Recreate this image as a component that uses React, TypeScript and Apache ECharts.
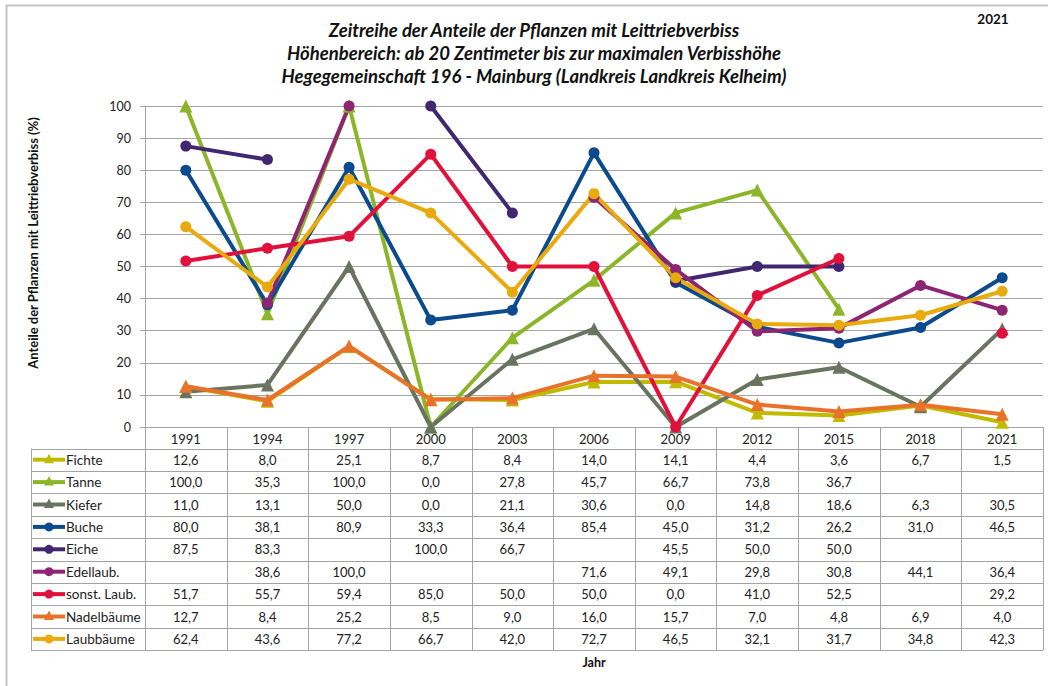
import React, { useEffect, useRef } from 'react';
import * as echarts from 'echarts';

const years = ['1991', '1994', '1997', '2000', '2003', '2006', '2009', '2012', '2015', '2018', '2021'];
const yTicks = [0, 10, 20, 30, 40, 50, 60, 70, 80, 90, 100];

const fichte = [12.6, 8.0, 25.1, 8.7, 8.4, 14.0, 14.1, 4.4, 3.6, 6.7, 1.5];
const tanne = [100.0, 35.3, 100.0, 0.0, 27.8, 45.7, 66.7, 73.8, 36.7, null, null];
const kiefer = [11.0, 13.1, 50.0, 0.0, 21.1, 30.6, 0.0, 14.8, 18.6, 6.3, 30.5];
const buche = [80.0, 38.1, 80.9, 33.3, 36.4, 85.4, 45.0, 31.2, 26.2, 31.0, 46.5];
const eiche = [87.5, 83.3, null, 100.0, 66.7, null, 45.5, 50.0, 50.0, null, null];
const edellaub = [null, 38.6, 100.0, null, null, 71.6, 49.1, 29.8, 30.8, 44.1, 36.4];
const sonstLaub = [51.7, 55.7, 59.4, 85.0, 50.0, 50.0, 0.0, 41.0, 52.5, null, 29.2];
const nadelbaeume = [12.7, 8.4, 25.2, 8.5, 9.0, 16.0, 15.7, 7.0, 4.8, 6.9, 4.0];
const laubbaeume = [62.4, 43.6, 77.2, 66.7, 42.0, 72.7, 46.5, 32.1, 31.7, 34.8, 42.3];

const seriesNames = ['Fichte', 'Tanne', 'Kiefer', 'Buche', 'Eiche', 'Edellaub.', 'sonst. Laub.', 'Nadelbäume', 'Laubbäume'];
const seriesData = [fichte, tanne, kiefer, buche, eiche, edellaub, sonstLaub, nadelbaeume, laubbaeume];
const seriesColors = ['#c2ba00', '#8cb62a', '#68745f', '#0b4a8c', '#40276f', '#8d2572', '#e2113c', '#e8722a', '#e9aa0e'];
const seriesSymbols = ['triangle', 'triangle', 'triangle', 'circle', 'circle', 'circle', 'circle', 'triangle', 'circle'];

const titleLines = [
  'Zeitreihe der Anteile der Pflanzen mit Leittriebverbiss',
  'Höhenbereich: ab 20 Zentimeter bis zur maximalen Verbisshöhe',
  'Hegegemeinschaft 196 - Mainburg (Landkreis Landkreis Kelheim)',
];
const yearLabel = '2021';
const yAxisTitle = 'Anteile der Pflanzen mit Leittriebverbiss (%)';
const xAxisTitle = 'Jahr';

const FONT = 'Lato, "Open Sans", "DejaVu Sans", sans-serif';
const GRID = '#a3a3a3';
const TXT = '#222222';

function fmt(v: number | null): string {
  if (v === null || v === undefined) return '';
  return v.toFixed(1).replace('.', ',');
}

export default function App() {
  const ref = useRef<HTMLDivElement>(null);
  useEffect(() => {
    const chart = echarts.init(ref.current!, null, { renderer: 'svg' });
    chart.setOption({
      animation: false,
      textStyle: { fontFamily: FONT },
      grid: { left: 145, right: 5, top: 106, bottom: 259 },
      xAxis: {
        type: 'category',
        data: years,
        boundaryGap: true,
        axisLine: { lineStyle: { color: GRID, width: 1 } },
        axisTick: { show: false },
        axisLabel: { color: TXT, fontSize: 13, margin: 5, fontFamily: FONT },
      },
      yAxis: {
        type: 'value',
        min: yTicks[0],
        max: yTicks[yTicks.length - 1],
        interval: 10,
        axisLine: { show: true, lineStyle: { color: GRID } },
        axisTick: { show: true, length: 5, lineStyle: { color: GRID } },
        splitLine: { lineStyle: { color: GRID, width: 1 } },
        axisLabel: { color: TXT, fontSize: 12.5, margin: 14, fontFamily: FONT },
      },
      series: seriesNames.map((name, i) => ({
        type: 'line',
        name,
        data: seriesData[i],
        symbol: seriesSymbols[i],
        symbolSize: seriesSymbols[i] === 'triangle' ? 13 : 11,
        showAllSymbol: true,
        connectNulls: false,
        lineStyle: { width: 4, color: seriesColors[i] },
        itemStyle: { color: seriesColors[i] },
        emphasis: { disabled: true },
      })),
    });

    const xs = years.map((y) => chart.convertToPixel({ xAxisIndex: 0 }, y) as number);
    const y0 = chart.convertToPixel({ yAxisIndex: 0 }, 0) as number;
    const step = xs[1] - xs[0];
    const left = xs[0] - step / 2;
    const right = xs[xs.length - 1] + step / 2;
    const headerBottom = y0 + 21.5;
    const rowH = 22.4;
    const nRows = seriesNames.length;
    const bottom = headerBottom + nRows * rowH;
    const legLeft = 31;

    const g: any[] = [];
    const line = (x1: number, y1: number, x2: number, y2: number) =>
      g.push({ type: 'line', silent: true, shape: { x1, y1, x2, y2 }, style: { stroke: GRID, lineWidth: 1 } });

    // outer border
    g.push({ type: 'rect', silent: true, shape: { x: 6.5, y: 5.5, width: 1100, height: 800 }, style: { fill: 'none', stroke: '#c4c4c4', lineWidth: 2 } });

    // vertical table lines
    for (let i = 0; i <= years.length; i++) {
      const x = Math.round(left + i * step) + 0.5;
      line(x, y0, x, bottom);
    }
    line(legLeft + 0.5, headerBottom, legLeft + 0.5, bottom);
    // horizontal table lines
    for (let r = 0; r <= nRows; r++) {
      const y = Math.round(headerBottom + r * rowH) + 0.5;
      line(legLeft, y, right, y);
    }

    // rows
    seriesNames.forEach((name, r) => {
      const cy = headerBottom + r * rowH + rowH / 2;
      const col = seriesColors[r];
      g.push({ type: 'line', silent: true, shape: { x1: 33, y1: cy, x2: 65, y2: cy }, style: { stroke: col, lineWidth: 4 } });
      if (seriesSymbols[r] === 'circle') {
        g.push({ type: 'circle', silent: true, shape: { cx: 49, cy, r: 4.5 }, style: { fill: col } });
      } else {
        g.push({ type: 'polygon', silent: true, shape: { points: [[49, cy - 6], [54, cy + 3.5], [44, cy + 3.5]] }, style: { fill: col } });
      }
      g.push({ type: 'text', silent: true, x: 66, y: cy, style: { text: name, fill: TXT, font: `13.5px ${FONT}`, textAlign: 'left', textVerticalAlign: 'middle', verticalAlign: 'middle' } });
      seriesData[r].forEach((v, i) => {
        const s = fmt(v as number | null);
        if (!s) return;
        g.push({ type: 'text', silent: true, x: xs[i], y: cy, style: { text: s, fill: TXT, font: `13px ${FONT}`, align: 'center', textAlign: 'center', verticalAlign: 'middle', textVerticalAlign: 'middle' } });
      });
    });

    // titles
    titleLines.forEach((t, i) => {
      g.push({ type: 'text', silent: true, x: 534, y: 30 + i * 23, style: { text: t, fill: '#111', font: `italic bold 18.5px ${FONT}`, textAlign: 'center', verticalAlign: 'middle', textVerticalAlign: 'middle' } });
    });
    g.push({ type: 'text', silent: true, x: 993, y: 19, style: { text: yearLabel, fill: '#111', font: `bold 13.5px ${FONT}`, textAlign: 'center', verticalAlign: 'middle', textVerticalAlign: 'middle' } });
    g.push({ type: 'text', silent: true, x: 33, y: 243, rotation: Math.PI / 2, style: { text: yAxisTitle, fill: '#111', font: `bold 13px ${FONT}`, textAlign: 'center', verticalAlign: 'middle', textVerticalAlign: 'middle' } });
    g.push({ type: 'text', silent: true, x: (left + right) / 2, y: 662, style: { text: xAxisTitle, fill: '#111', font: `bold 12.5px ${FONT}`, textAlign: 'center', verticalAlign: 'middle', textVerticalAlign: 'middle' } });

    chart.setOption({ graphic: g });
    return () => chart.dispose();
  }, []);
  return <div ref={ref} style={{ position: 'absolute', left: 0, top: 0, width: 1048, height: 686, background: '#fff' }} />;
}
